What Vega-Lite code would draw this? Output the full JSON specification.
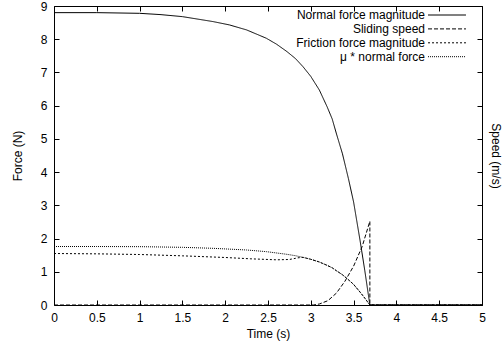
{
  "$schema": "https://vega.github.io/schema/vega-lite/v6.json",
  "width": 428,
  "height": 299,
  "autosize": {"type": "none"},
  "padding": {"left": 54, "top": 6, "right": 21, "bottom": 42},
  "background": "white",
  "config": {
    "font": "Liberation Sans",
    "view": {"stroke": null},
    "axis": {
      "domainColor": "black",
      "tickColor": "black",
      "labelColor": "black",
      "titleColor": "black",
      "labelFont": "Liberation Sans",
      "titleFont": "Liberation Sans",
      "labelFontSize": 12,
      "titleFontSize": 12,
      "titleFontWeight": "normal",
      "grid": false,
      "tickSize": -5
    },
    "legend": {
      "labelFont": "Liberation Sans",
      "labelFontSize": 12,
      "labelColor": "black"
    }
  },
  "data": {
    "values": [
      {"i": 1, "series": "Normal force magnitude", "t": 0, "v": 8.8},
      {"i": 2, "series": "Normal force magnitude", "t": 0.5, "v": 8.8},
      {"i": 3, "series": "Normal force magnitude", "t": 1.0, "v": 8.78},
      {"i": 4, "series": "Normal force magnitude", "t": 1.25, "v": 8.74},
      {"i": 5, "series": "Normal force magnitude", "t": 1.5, "v": 8.68},
      {"i": 6, "series": "Normal force magnitude", "t": 1.86, "v": 8.53},
      {"i": 7, "series": "Normal force magnitude", "t": 2.05, "v": 8.43},
      {"i": 8, "series": "Normal force magnitude", "t": 2.25, "v": 8.28},
      {"i": 9, "series": "Normal force magnitude", "t": 2.48, "v": 8.03},
      {"i": 10, "series": "Normal force magnitude", "t": 2.6, "v": 7.85},
      {"i": 11, "series": "Normal force magnitude", "t": 2.72, "v": 7.63},
      {"i": 12, "series": "Normal force magnitude", "t": 2.82, "v": 7.42},
      {"i": 13, "series": "Normal force magnitude", "t": 2.91, "v": 7.17},
      {"i": 14, "series": "Normal force magnitude", "t": 3.0, "v": 6.88},
      {"i": 15, "series": "Normal force magnitude", "t": 3.1, "v": 6.47},
      {"i": 16, "series": "Normal force magnitude", "t": 3.19, "v": 5.97},
      {"i": 17, "series": "Normal force magnitude", "t": 3.25, "v": 5.6},
      {"i": 18, "series": "Normal force magnitude", "t": 3.3, "v": 5.15},
      {"i": 19, "series": "Normal force magnitude", "t": 3.37, "v": 4.55},
      {"i": 20, "series": "Normal force magnitude", "t": 3.44, "v": 3.8},
      {"i": 21, "series": "Normal force magnitude", "t": 3.5, "v": 3.1},
      {"i": 22, "series": "Normal force magnitude", "t": 3.575, "v": 1.95},
      {"i": 23, "series": "Normal force magnitude", "t": 3.63, "v": 1.05},
      {"i": 24, "series": "Normal force magnitude", "t": 3.69, "v": 0},
      {"i": 25, "series": "Normal force magnitude", "t": 5, "v": 0},

      {"i": 1, "series": "Sliding speed", "t": 0, "v": 0},
      {"i": 2, "series": "Sliding speed", "t": 3.03, "v": 0},
      {"i": 3, "series": "Sliding speed", "t": 3.1, "v": 0.03},
      {"i": 4, "series": "Sliding speed", "t": 3.2, "v": 0.13},
      {"i": 5, "series": "Sliding speed", "t": 3.3, "v": 0.36},
      {"i": 6, "series": "Sliding speed", "t": 3.4, "v": 0.72},
      {"i": 7, "series": "Sliding speed", "t": 3.5, "v": 1.17},
      {"i": 8, "series": "Sliding speed", "t": 3.6, "v": 1.76},
      {"i": 9, "series": "Sliding speed", "t": 3.69, "v": 2.52},
      {"i": 10, "series": "Sliding speed", "t": 3.69, "v": 0},
      {"i": 11, "series": "Sliding speed", "t": 5, "v": 0},

      {"i": 1, "series": "Friction force magnitude", "t": 0, "v": 1.55},
      {"i": 2, "series": "Friction force magnitude", "t": 0.5, "v": 1.54},
      {"i": 3, "series": "Friction force magnitude", "t": 1.0, "v": 1.52},
      {"i": 4, "series": "Friction force magnitude", "t": 1.5, "v": 1.48},
      {"i": 5, "series": "Friction force magnitude", "t": 2.0, "v": 1.43},
      {"i": 6, "series": "Friction force magnitude", "t": 2.3, "v": 1.39},
      {"i": 7, "series": "Friction force magnitude", "t": 2.6, "v": 1.36},
      {"i": 8, "series": "Friction force magnitude", "t": 2.75, "v": 1.37},
      {"i": 9, "series": "Friction force magnitude", "t": 2.85, "v": 1.42},
      {"i": 10, "series": "Friction force magnitude", "t": 2.91, "v": 1.434},
      {"i": 11, "series": "Friction force magnitude", "t": 3.0, "v": 1.376},
      {"i": 12, "series": "Friction force magnitude", "t": 3.1, "v": 1.294},
      {"i": 13, "series": "Friction force magnitude", "t": 3.19, "v": 1.194},
      {"i": 14, "series": "Friction force magnitude", "t": 3.25, "v": 1.12},
      {"i": 15, "series": "Friction force magnitude", "t": 3.3, "v": 1.03},
      {"i": 16, "series": "Friction force magnitude", "t": 3.37, "v": 0.91},
      {"i": 17, "series": "Friction force magnitude", "t": 3.44, "v": 0.76},
      {"i": 18, "series": "Friction force magnitude", "t": 3.5, "v": 0.62},
      {"i": 19, "series": "Friction force magnitude", "t": 3.575, "v": 0.39},
      {"i": 20, "series": "Friction force magnitude", "t": 3.63, "v": 0.21},
      {"i": 21, "series": "Friction force magnitude", "t": 3.69, "v": 0},
      {"i": 22, "series": "Friction force magnitude", "t": 5, "v": 0},

      {"i": 1, "series": "μ * normal force", "t": 0, "v": 1.76},
      {"i": 2, "series": "μ * normal force", "t": 0.5, "v": 1.76},
      {"i": 3, "series": "μ * normal force", "t": 1.0, "v": 1.756},
      {"i": 4, "series": "μ * normal force", "t": 1.5, "v": 1.736},
      {"i": 5, "series": "μ * normal force", "t": 1.86, "v": 1.706},
      {"i": 6, "series": "μ * normal force", "t": 2.25, "v": 1.656},
      {"i": 7, "series": "μ * normal force", "t": 2.48, "v": 1.606},
      {"i": 8, "series": "μ * normal force", "t": 2.72, "v": 1.526},
      {"i": 9, "series": "μ * normal force", "t": 2.82, "v": 1.484},
      {"i": 10, "series": "μ * normal force", "t": 2.91, "v": 1.434},
      {"i": 11, "series": "μ * normal force", "t": 3.0, "v": 1.376},
      {"i": 12, "series": "μ * normal force", "t": 3.1, "v": 1.294},
      {"i": 13, "series": "μ * normal force", "t": 3.19, "v": 1.194},
      {"i": 14, "series": "μ * normal force", "t": 3.25, "v": 1.12},
      {"i": 15, "series": "μ * normal force", "t": 3.3, "v": 1.03},
      {"i": 16, "series": "μ * normal force", "t": 3.37, "v": 0.91},
      {"i": 17, "series": "μ * normal force", "t": 3.44, "v": 0.76},
      {"i": 18, "series": "μ * normal force", "t": 3.5, "v": 0.62},
      {"i": 19, "series": "μ * normal force", "t": 3.575, "v": 0.39},
      {"i": 20, "series": "μ * normal force", "t": 3.63, "v": 0.21},
      {"i": 21, "series": "μ * normal force", "t": 3.69, "v": 0},
      {"i": 22, "series": "μ * normal force", "t": 5, "v": 0}
    ]
  },
  "layer": [
    {
      "mark": {"type": "line", "color": "black", "strokeWidth": 1, "clip": true},
      "encoding": {
        "x": {
          "field": "t", "type": "quantitative",
          "scale": {"domain": [0, 5], "nice": false, "zero": false},
          "axis": {"orient": "bottom", "title": "Time (s)", "format": "~g", "values": [0, 0.5, 1, 1.5, 2, 2.5, 3, 3.5, 4, 4.5, 5], "labelPadding": 12, "titlePadding": 5, "labelFlush": false}
        },
        "y": {
          "field": "v", "type": "quantitative",
          "scale": {"domain": [0, 9], "nice": false},
          "axis": {"orient": "left", "title": "Force (N)", "format": "~g", "values": [0, 1, 2, 3, 4, 5, 6, 7, 8, 9], "labelPadding": 12, "titlePadding": 16, "labelFlush": false}
        },
        "strokeDash": {
          "field": "series", "type": "nominal",
          "scale": {
            "domain": ["Normal force magnitude", "Sliding speed", "Friction force magnitude", "μ * normal force"],
            "range": [[1, 0], [4, 2], [2, 2], [1, 1]]
          },
          "legend": {
            "title": null,
            "orient": "none",
            "legendX": 386,
            "legendY": 2,
            "symbolType": "M-3,0H3",
            "symbolStrokeColor": "black",
            "symbolStrokeWidth": 1,
            "symbolSize": 160,
            "rowPadding": 0.9,
            "padding": 0,
            "labelAlign": "right",
            "labelOffset": -29
          }
        },
        "detail": {"field": "series"},
        "order": {"field": "i", "type": "quantitative"}
      }
    },
    {
      "mark": {"type": "point", "opacity": 0},
      "encoding": {
        "x": {
          "field": "t", "type": "quantitative",
          "axis": {"orient": "top", "title": null, "labels": false, "values": [0, 0.5, 1, 1.5, 2, 2.5, 3, 3.5, 4, 4.5, 5]}
        },
        "y": {
          "field": "v", "type": "quantitative",
          "axis": {"orient": "right", "title": "Speed (m/s)", "labels": false, "values": [0, 1, 2, 3, 4, 5, 6, 7, 8, 9], "titlePadding": 6}
        }
      }
    }
  ],
  "resolve": {"axis": {"x": "independent", "y": "independent"}}
}
